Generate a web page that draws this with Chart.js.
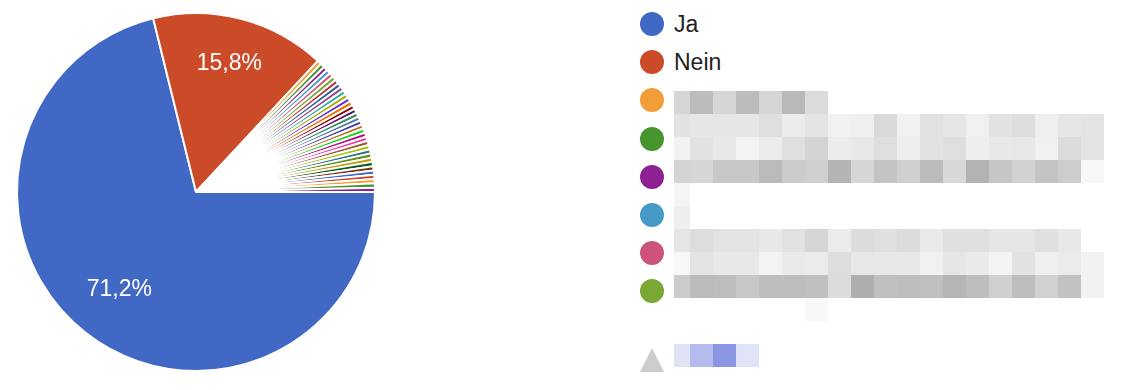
<!DOCTYPE html>
<html>
<head>
<meta charset="utf-8">
<script src="https://cdn.jsdelivr.net/npm/chart.js@4"></script>
<style>
  html, body { margin: 0; padding: 0; background: #fff; }
  body { width: 1124px; height: 390px; position: relative; overflow: hidden; font-family: "Liberation Sans", Arial, sans-serif; }
  #pieBox { position: absolute; left: 0; top: 0; width: 392px; height: 384px; }
  #legend { position: absolute; left: 640px; top: 0; }
  .item { position: absolute; left: 0; height: 24px; display: flex; align-items: center; white-space: nowrap; }
  .dot { width: 24px; height: 24px; border-radius: 50%; margin-right: 10px; }
  .txt { font-size: 23px; color: #222; }
  .cell { position: absolute; height: 23px; }
  .tri { position: absolute; left: 640px; top: 348px; width: 0; height: 0;
         border-left: 12px solid transparent; border-right: 12px solid transparent; border-bottom: 24px solid #cccccc; }
</style>
</head>
<body>
<div id="pieBox"><canvas id="answersChart"></canvas></div>
<div id="legend"></div>
<div class="tri"></div>
<div id="mosaic"></div>

<script>
// answers: Ja, Nein, then 34 single answers whose labels are blurred in the original
const answerLabels = ['Ja', 'Nein',
    '', '', '', '', '', '', '', '', '', '', '', '', '', '', '', '', '',
    '', '', '', '', '', '', '', '', '', '', '', '', '', '', '', '', ''];
const answerCounts = [185, 41,
    1, 1, 1, 1, 1, 1, 1, 1, 1, 1, 1, 1, 1, 1, 1, 1, 1,
    1, 1, 1, 1, 1, 1, 1, 1, 1, 1, 1, 1, 1, 1, 1, 1, 1];
const sliceColors = [
    '#4168c5', '#cb4a28', '#f19e38', '#47952f', '#8d2192', '#459ac6', '#cc5379', '#79a833',
    '#b82e2e', '#316395', '#994499', '#22aa99', '#aaaa11', '#6633cc', '#e67300', '#8b0707',
    '#651067', '#329262', '#5574a6', '#3b3eac', '#b77322', '#16d620', '#b91383', '#f4359e',
    '#9c5935', '#a9c413', '#2a778d', '#668d1c', '#bea413', '#0c5922', '#743411',
    '#4168c5', '#cb4a28', '#f19e38', '#47952f', '#8d2192'];
const legendShown = 8;

// percent labels inside big slices
const pctLabels = {
    id: 'pctLabels',
    afterDatasetsDraw(chart) {
        const c = chart.ctx;
        const meta = chart.getDatasetMeta(0);
        const total = answerCounts.reduce((a, b) => a + b, 0);
        const spread = [0.695, 0.743];
        c.save();
        c.fillStyle = '#fff';
        c.font = '23px "Liberation Sans", Arial, sans-serif';
        c.textAlign = 'center';
        c.textBaseline = 'middle';
        meta.data.forEach((arc, i) => {
            const share = answerCounts[i] / total;
            if (share < 0.05) return;
            const a = (arc.startAngle + arc.endAngle) / 2;
            const r = arc.outerRadius * (spread[i] || 0.72);
            const txt = (share * 100).toFixed(1).replace('.', ',') + '%';
            c.fillText(txt, arc.x + Math.cos(a) * r, arc.y + Math.sin(a) * r);
        });
        c.restore();
    }
};

const ctx = document.getElementById('answersChart').getContext('2d');
new Chart(ctx, {
    type: 'pie',
    data: {
        labels: answerLabels,
        datasets: [{
            data: answerCounts,
            backgroundColor: sliceColors,
            borderColor: '#ffffff',
            borderWidth: 2
        }]
    },
    options: {
        responsive: true,
        maintainAspectRatio: false,
        animation: false,
        rotation: 90,
        radius: 179,
        plugins: {
            legend: { display: false },
            tooltip: { enabled: false }
        }
    },
    plugins: [pctLabels]
});

// html legend, first page only
const legend = document.getElementById('legend');
for (let i = 0; i < legendShown; i++) {
    const row = document.createElement('div');
    row.className = 'item';
    row.style.top = (12 + i * 38.2) + 'px';
    row.innerHTML = '<div class="dot" style="background:' + sliceColors[i] + '"></div>' +
        '<span class="txt">' + answerLabels[i] + '</span>';
    legend.appendChild(row);
}

// pixelated (blurred) label area, grey levels per cell
const mosaicRows = [
    [91, 'd6 bc d6 bc d6 b9 dc'],
    [114, 'e2 e6 e6 e6 df ec e4 f1 ef d9 f1 e1 e6 f0 e2 dd ef e6 e4'],
    [137, 'f2 e2 e8 f3 ec df d4 ec e8 df ee e2 de ee e8 e7 f0 dc e4'],
    [160, 'd4 d6 c8 c8 ba cb cf b4 d6 c4 cf bb d8 b3 c6 d2 c3 cd f8'],
    [183, 'f5'],
    [206, 'ee'],
    [229, 'e5 dd e3 e3 e8 e2 d6 eb dc e0 dc ea e0 e0 e6 e6 e0 e8'],
    [252, 'f7 e4 e8 e8 f3 ea eb dd e8 e8 e8 f0 e6 ea f3 e2 ef eb f2'],
    [275, 'cb bb bd c7 be be c0 dc ae c0 bd c0 b5 be d0 bd d1 c2 f2'],
    [298, 'ff ff ff ff ff ff f8']
];
const pagerCells = ['#e0e2f6', '#b4bcee', '#8a96e2', '#e0e4f8'];
const mosaic = document.getElementById('mosaic');
function addCell(x, y, w, color) {
    const d = document.createElement('div');
    d.className = 'cell';
    d.style.left = x + 'px';
    d.style.top = y + 'px';
    d.style.width = w + 'px';
    d.style.background = color;
    mosaic.appendChild(d);
}
mosaicRows.forEach(([y, s]) => {
    s.split(' ').forEach((g, k) => {
        const x = k === 0 ? 674 : 690 + (k - 1) * 23;
        addCell(x, y, k === 0 ? 16 : 23, '#' + g + g + g);
    });
});
pagerCells.forEach((col, k) => {
    addCell(k === 0 ? 674 : 690 + (k - 1) * 23, 344, k === 0 ? 16 : 23, col);
});
</script>
</body>
</html>
